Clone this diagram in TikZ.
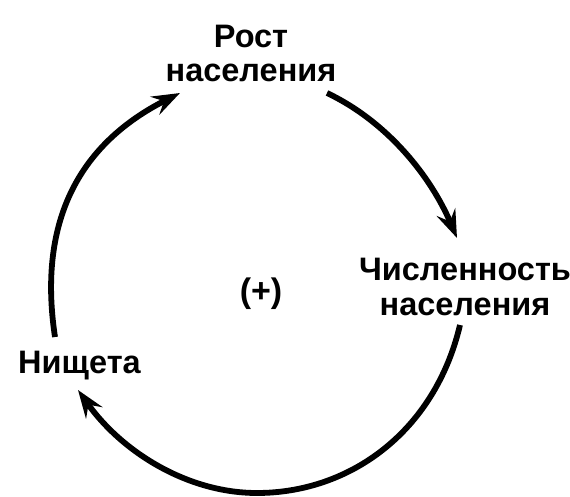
\documentclass[tikz,border=0pt]{standalone}
\usepackage{fontspec}
\setmainfont{Liberation Sans}
\usetikzlibrary{arrows.meta}
\begin{document}
\begin{tikzpicture}[x=1pt,y=-1pt,
  lbl/.style={font=\bfseries\fontsize{32.5}{34.5}\selectfont, align=center, inner sep=0pt, anchor=base},
  loopline/.style={line width=5.8pt, -{Stealth[length=28pt,width=20pt,inset=10pt]}}]
\useasboundingbox (0,0) rectangle (570,497);
\node[lbl] (growth) at (251,82) {Рост\\населения};
\node[lbl] (pop) at (465,315) {Численность\\населения};
\node[lbl] (pov) at (79.5,373) {Нищета};
\node[lbl, font=\bfseries\fontsize{34}{36}\selectfont] (sign) at (261,302) {(+)};
\coordinate (a1) at (327,93);
\coordinate (a2) at (457,238);
\coordinate (b1) at (460,325);
\coordinate (bm) at (257,493);
\coordinate (b2) at (78,390);
\coordinate (c1) at (55,337);
\coordinate (c2) at (180,93);
\draw[loopline] (a1) .. controls (388,122) and (431,177) .. (a2);
\draw[loopline] (b1) .. controls (434.7,431.7) and (350,493) .. (bm) .. controls (187,493) and (121.5,451.5) .. (b2);
\draw[loopline] (c1) .. controls (37,218) and (82,142.5) .. (c2);
\end{tikzpicture}
\end{document}
